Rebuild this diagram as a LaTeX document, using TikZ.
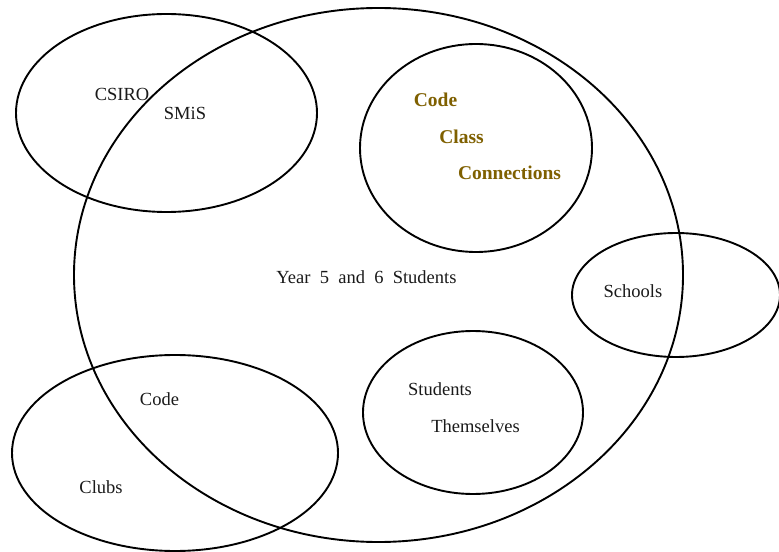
\documentclass[tikz,border=0pt]{standalone}
\usepackage{fontspec}
\setmainfont{Liberation Serif}
\usetikzlibrary{shapes.geometric}
\definecolor{gold}{HTML}{7F6000}
\definecolor{ink}{HTML}{1A1A1A}
\tikzset{
  setshape/.style={ellipse, draw=black, line width=1.9bp, inner sep=0pt},
  lbl/.style={font=\fontsize{18.5bp}{21bp}\selectfont, text=ink, inner sep=0pt},
  goldlbl/.style={font=\fontsize{19.5bp}{22bp}\selectfont\bfseries, text=gold, inner sep=0pt}
}
\begin{document}
\begin{tikzpicture}[x=1bp, y=-1bp]
\useasboundingbox (0,0) rectangle (779,552);
\fill[white] (0,0) rectangle (779,552);
% sets
\node[setshape, minimum width=609bp, minimum height=534bp] (year) at (378.5,275) {};
\node[setshape, minimum width=301bp, minimum height=198bp] (csiro) at (166.5,113) {};
\node[setshape, minimum width=232bp, minimum height=208bp] (ccc) at (476,148) {};
\node[setshape, minimum width=208bp, minimum height=124bp] (schools) at (676,295) {};
\node[setshape, minimum width=220bp, minimum height=163bp] (st) at (473,412.5) {};
\node[setshape, minimum width=326bp, minimum height=196bp] (clubs) at (175,453) {};
% labels
\node[lbl] (tcsiro) at (122,94) {CSIRO};
\node[lbl] (tsmis) at (185,113) {SMiS};
\node[goldlbl] (tcode1) at (435.5,100) {Code};
\node[goldlbl] (tclass) at (461.5,137) {Class};
\node[goldlbl] (tconn) at (509.5,173) {Connections};
\node[lbl] (tyear) at (366.5,277) {Year\ \ 5\ \ and\ \ 6\ \ Students};
\node[lbl] (tschools) at (633,291) {Schools};
\node[lbl] (tstud) at (440,389) {Students};
\node[lbl] (tthem) at (475.5,426) {Themselves};
\node[lbl] (tcode2) at (159.5,399) {Code};
\node[lbl] (tclubs) at (101,487) {Clubs};
\end{tikzpicture}
\end{document}
